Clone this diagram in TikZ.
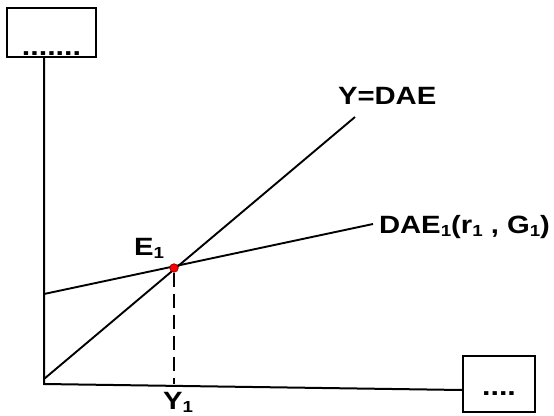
\documentclass[tikz,border=0pt]{standalone}
\usepackage{fontspec}
\setmainfont{Liberation Sans}
\usepackage{graphicx}
\usetikzlibrary{positioning, calc}

% wide bold text, as in the drawing
\newcommand{\widetext}[1]{\scalebox{1.17}[1]{\bfseries #1}}
\newcommand{\lowone}{\raisebox{-3.5pt}{\fontsize{16}{16}\selectfont 1}}

\begin{document}
\begin{tikzpicture}[
    x=1pt, y=-1pt,
    line width=2pt,
    axisbox/.style={
        draw,
        rectangle,
        line width=2pt,
        inner sep=0pt,
        font=\fontsize{26}{26}\selectfont
    },
    curve/.style={line width=1.9pt},
    tag/.style={
        inner sep=0pt,
        font=\fontsize{25}{25}\selectfont
    },
    equil/.style={
        circle,
        draw=red!55!black,
        fill=red,
        inner sep=0pt,
        minimum size=8.5pt,
        line width=0.7pt
    },
    guide/.style={line width=1.6pt, dash pattern=on 14pt off 7pt}
]
\useasboundingbox (0,0) rectangle (554,415);

% Axis boxes
\node[axisbox, minimum width=89pt, text height=47pt, text depth=2pt] (ybox) at (51.5,32.5) {\widetext{.......}};
\node[axisbox, minimum width=72pt, text height=39pt, text depth=17pt] (xbox) at (499,384) {\widetext{....}};

% Points
\coordinate (O) at (44,384);
\coordinate (yend) at (355,117);
\coordinate (dstart) at (44,294);
\coordinate (dend) at (373,224);
\coordinate (e1) at (174,268);

% Axes
\draw (O |- ybox.south) -- (O) -- ($(xbox.west)+(0,6)$);

% Lines
\draw[curve] ($(O)+(0,-5)$) -- (yend);
\draw[curve] (dstart) -- (dend);

% Equilibrium
\node[equil] (E) at (e1) {};
\draw[guide] (E) -- (E |- O);

% Labels
\node[tag, anchor=base west] (ylab) at (337,104) {\widetext{Y=DAE}};
\node[tag, anchor=base west] (dlab) at (378,233) {\widetext{DAE\lowone(r\lowone{} , G\lowone)}};
\node[tag, anchor=base west] (elab) at (133,255) {\widetext{E\lowone}};
\node[tag, anchor=base west] (ylab1) at (162,409) {\widetext{Y\lowone}};

\end{tikzpicture}
\end{document}
